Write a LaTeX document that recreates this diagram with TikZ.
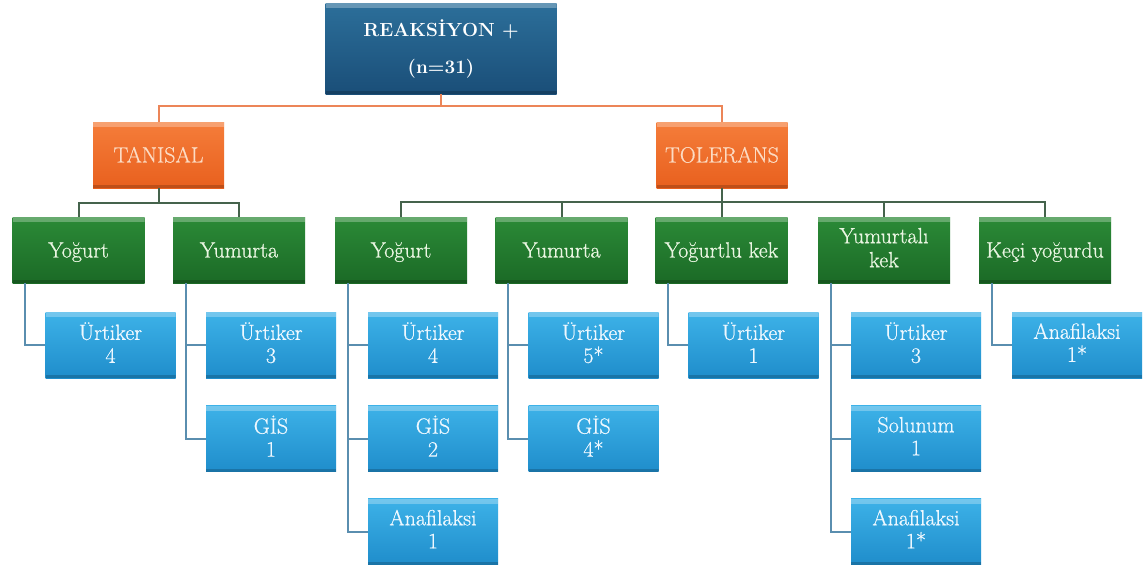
\documentclass[tikz,border=0pt]{standalone}
\usepackage{fontspec}
\newfontfamily\heavy[FakeBold=0.7]{Latin Modern Roman}
\newcommand\mystrut{\rule[-0.22em]{0pt}{1.12em}}
\definecolor{rootTop}{HTML}{2C6F9A}
\definecolor{rootBot}{HTML}{1A4E78}
\definecolor{orTop}{HTML}{F57D3A}
\definecolor{orBot}{HTML}{E8601E}
\definecolor{grTop}{HTML}{2B8A37}
\definecolor{grBot}{HTML}{1B6A26}
\definecolor{blTop}{HTML}{3DB2E8}
\definecolor{blBot}{HTML}{1F8DCB}
\definecolor{orLine}{HTML}{EC8558}
\definecolor{grLine}{HTML}{45634C}
\definecolor{blLine}{HTML}{5A8EAF}
\definecolor{orText}{HTML}{FCDCC4}
\definecolor{grText}{HTML}{EAF6E2}
\definecolor{blText}{HTML}{EEF8FF}
\begin{document}
\begin{tikzpicture}[x=1pt,y=-1pt,
  boxbase/.style={rectangle, inner sep=0pt, align=center,
    execute at begin node=\mystrut, execute at end node=\mystrut,
    path picture={\fill[white,opacity=0.28] (path picture bounding box.north west) rectangle ([yshift=-5pt]path picture bounding box.north east);
                  \fill[black,opacity=0.18] (path picture bounding box.south west) rectangle ([yshift=3pt]path picture bounding box.south east);}},
  rootbox/.style={boxbase, top color=rootTop, bottom color=rootBot, minimum width=231pt, minimum height=91pt,
    text=white, font=\fontsize{19}{37}\selectfont\bfseries},
  catbox/.style={boxbase, top color=orTop, bottom color=orBot, minimum width=131pt, minimum height=66pt,
    text=orText, font=\heavy\fontsize{22}{24}\selectfont},
  foodbox/.style={boxbase, top color=grTop, bottom color=grBot, minimum width=132pt, minimum height=66pt,
    text=grText, font=\heavy\fontsize{22}{24}\selectfont},
  outbox/.style={boxbase, top color=blTop, bottom color=blBot, minimum width=130pt, minimum height=66pt,
    text=blText, font=\heavy\fontsize{22}{23}\selectfont},
  oline/.style={draw=orLine, line width=2pt},
  gline/.style={draw=grLine, line width=2pt},
  bline/.style={draw=blLine, line width=2pt}
]
\useasboundingbox[fill=white] (0,0) rectangle (1144,571);

% root and categories
\node[rootbox] (root) at (441,48.5) {REAKSİYON +\\(n=31)};
\node[catbox] (tan) at (158.5,155) {TANISAL};
\node[catbox] (tol) at (722,155) {TOLERANS};

% foods
\node[foodbox] (y1) at (78.5,250) {Yoğurt};
\node[foodbox] (u1) at (239,250) {Yumurta};
\node[foodbox] (y2) at (401,250) {Yoğurt};
\node[foodbox] (u2) at (561.5,250) {Yumurta};
\node[foodbox] (yk) at (721.5,250) {Yoğurtlu kek};
\node[foodbox] (uk) at (884,250) {Yumurtalı\\kek};
\node[foodbox] (ky) at (1045,250) {Keçi yoğurdu};

% outcomes
\node[outbox] (y1a) at (110.5,345) {Ürtiker\\4};
\node[outbox] (u1a) at (271,345) {Ürtiker\\3};
\node[outbox] (u1b) at (271,438.5) {GİS\\1};
\node[outbox] (y2a) at (433,345) {Ürtiker\\4};
\node[outbox] (y2b) at (433,438.5) {GİS\\2};
\node[outbox] (y2c) at (433,531.5) {Anafilaksi\\1};
\node[outbox] (u2a) at (593.5,345) {Ürtiker\\5*};
\node[outbox] (u2b) at (593.5,438.5) {GİS\\4*};
\node[outbox] (yka) at (753.5,345) {Ürtiker\\1};
\node[outbox] (uka) at (916,345) {Ürtiker\\3};
\node[outbox] (ukb) at (916,438.5) {Solunum\\1};
\node[outbox] (ukc) at (916,531.5) {Anafilaksi\\1*};
\node[outbox] (kya) at (1077,345) {Anafilaksi\\1*};

% junctions
\coordinate (j0) at (441,106);
\coordinate (j1) at (158.5,203);
\coordinate (j2) at (722,202);

% root connectors
\draw[oline] (root.south) -- (j0);
\draw[oline] (tan.north) |- (j0) -| (tol.north);

% category connectors
\draw[gline] (tan.south) -- (j1);
\draw[gline] (y1.north) |- (j1) -| (u1.north);
\draw[gline] (tol.south) -- (j2);
\draw[gline] (y2.north) |- (j2) -| (ky.north);
\draw[gline] (u2.north) -- (u2.north |- j2);
\draw[gline] (yk.north) -- (yk.north |- j2);
\draw[gline] (uk.north) -- (uk.north |- j2);

% outcome connectors
\foreach \g/\b in {y1/y1a, u1/u1a, u1/u1b, y2/y2a, y2/y2b, y2/y2c, u2/u2a, u2/u2b, yk/yka, uk/uka, uk/ukb, uk/ukc, ky/kya}
  \draw[bline] ([xshift=13pt]\g.south west) |- (\b.west);
\end{tikzpicture}
\end{document}
